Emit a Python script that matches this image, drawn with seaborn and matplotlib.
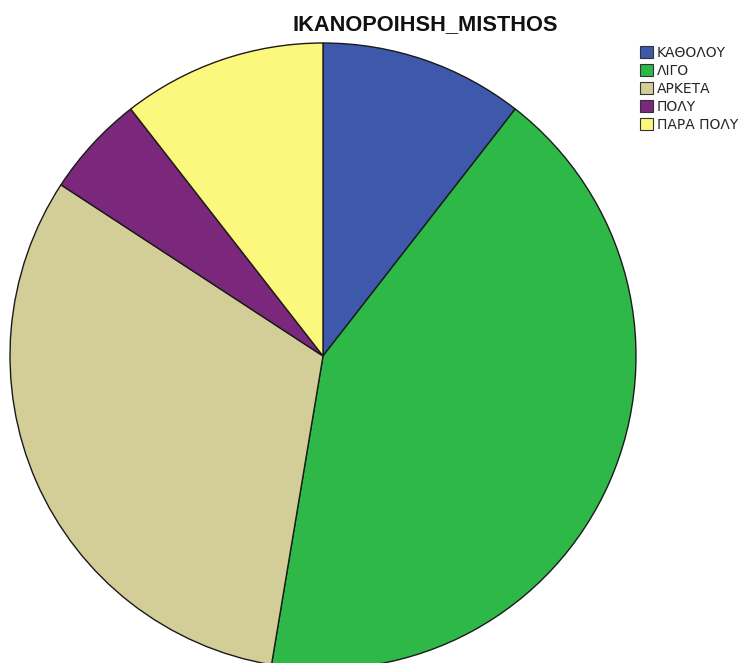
import matplotlib
matplotlib.use("Agg")
import matplotlib.pyplot as plt
import seaborn as sns

# Salary satisfaction responses (counts per answer)
categories = ["ΚΑΘΟΛΟΥ", "ΛΙΓΟ", "ΑΡΚΕΤΑ", "ΠΟΛΥ", "ΠΑΡΑ ΠΟΛΥ"]
counts = [2, 8, 6, 1, 2]
title = "IKANOPOIHSH_MISTHOS"
slice_colors = ["#3E58AC", "#2EB848", "#D3CE97", "#7B277C", "#FBF87D"]

sns.set_theme(style="white")
plt.rcParams["font.family"] = ["Liberation Sans", "DejaVu Sans"]

W, H = 746, 663
fig = plt.figure(figsize=(W / 100, H / 100), dpi=100)
fig.patch.set_facecolor("white")
ax = fig.add_axes([0, 0, 1, 1])

wedges, _ = ax.pie(
    counts,
    colors=sns.color_palette(slice_colors),
    startangle=90,
    counterclock=False,
    center=(323, H - 356),
    radius=313,
    wedgeprops=dict(edgecolor="#1a1a1a", linewidth=1.0),
)
ax.set_xlim(0, W)
ax.set_ylim(0, H)
ax.set_aspect("auto")
ax.axis("off")

fig.text(425 / W, 1 - 25 / H, title, ha="center", va="center",
         fontsize=15.7, fontweight="bold", color="#111111")

leg = ax.legend(
    wedges, categories,
    loc="upper left",
    bbox_to_anchor=(640 / W, 1 - 46 / H),
    bbox_transform=fig.transFigure,
    frameon=False,
    prop=dict(family="DejaVu Sans", size=10),
    handlelength=0.95,
    handleheight=0.95,
    handletextpad=0.25,
    labelspacing=0.29,
    borderpad=0,
    borderaxespad=0,
)
for h in leg.legend_handles:
    h.set_edgecolor("#333333")
    h.set_linewidth(0.8)

fig.savefig("out.png", dpi=100, facecolor="white")
